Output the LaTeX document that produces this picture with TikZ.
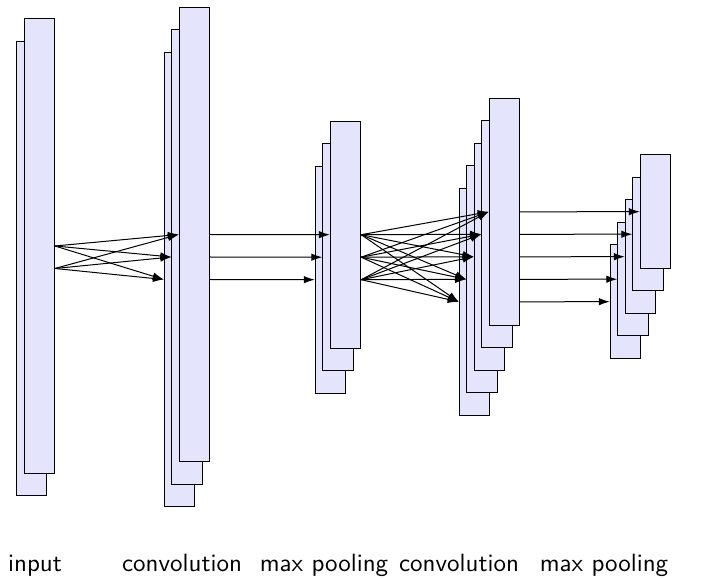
\documentclass[tikz,border=0pt]{standalone}
\usetikzlibrary{arrows.meta}
\definecolor{mapfill}{RGB}{228,228,252}
\begin{document}
\begin{tikzpicture}[x=0.4pt,y=-0.4pt,
  fmap/.style={draw=black,fill=mapfill,line width=0.4pt,rectangle,inner sep=0pt,
    minimum width=12.16pt},
  tall/.style={fmap,minimum height=181.6pt},
  mid/.style={fmap,minimum height=90.8pt},
  short/.style={fmap,minimum height=45.36pt},
  conn/.style={line width=0.4pt,-{Latex[length=4.4pt,width=3pt]}},
  caption/.style={font=\sffamily,anchor=base,inner sep=0pt}]
\useasboundingbox (0,0) rectangle (711,578);

% input: 2 maps, drawn back to front
\node[tall] (in1) at (31.7,268.5) {};
\node[tall] (in0) at (39.2,246.0) {};

% first convolution: 3 maps
\foreach \j in {2,1,0}
  \node[tall] (ca\j) at ({194.5-7.5*\j},{234.5+22.5*\j}) {};

% first max pooling: 3 maps
\foreach \j in {2,1,0}
  \node[mid] (pa\j) at ({345.5-7.5*\j},{234.7+22.5*\j}) {};

% second convolution: 5 maps
\foreach \j in {4,3,2,1,0}
  \node[mid] (cb\j) at ({504.4-7.5*\j},{211.8+22.5*\j}) {};

% second max pooling: 5 maps
\foreach \j in {4,3,2,1,0}
  \node[short] (pb\j) at ({655.5-7.5*\j},{211.7+22.5*\j}) {};

% input -> convolution: every input map feeds every feature map
\foreach \i in {0,1}
  \foreach \k in {0,1,2}
    \draw[conn] (in0.east |- in\i.east) -- (ca\k.west);

% convolution -> max pooling: one to one
\foreach \i in {0,1,2}
  \draw[conn] (ca0.east |- ca\i.east) -- (pa\i.west);

% max pooling -> convolution: all to all
\foreach \i in {0,1,2}
  \foreach \k in {0,...,4}
    \draw[conn] (pa0.east |- pa\i.east) -- (cb\k.west);

% convolution -> max pooling: one to one
\foreach \i in {0,...,4}
  \draw[conn] (cb0.east |- cb\i.east) -- (pb\i.west);

% layer captions
\node[caption] (l1) at (35,571.5) {input};
\node[caption] (l2) at (182,571.5) {convolution};
\node[caption] (l3) at (324,571.5) {max pooling};
\node[caption] (l4) at (459,571.5) {convolution};
\node[caption] (l5) at (604,571.5) {max pooling};
\end{tikzpicture}
\end{document}
